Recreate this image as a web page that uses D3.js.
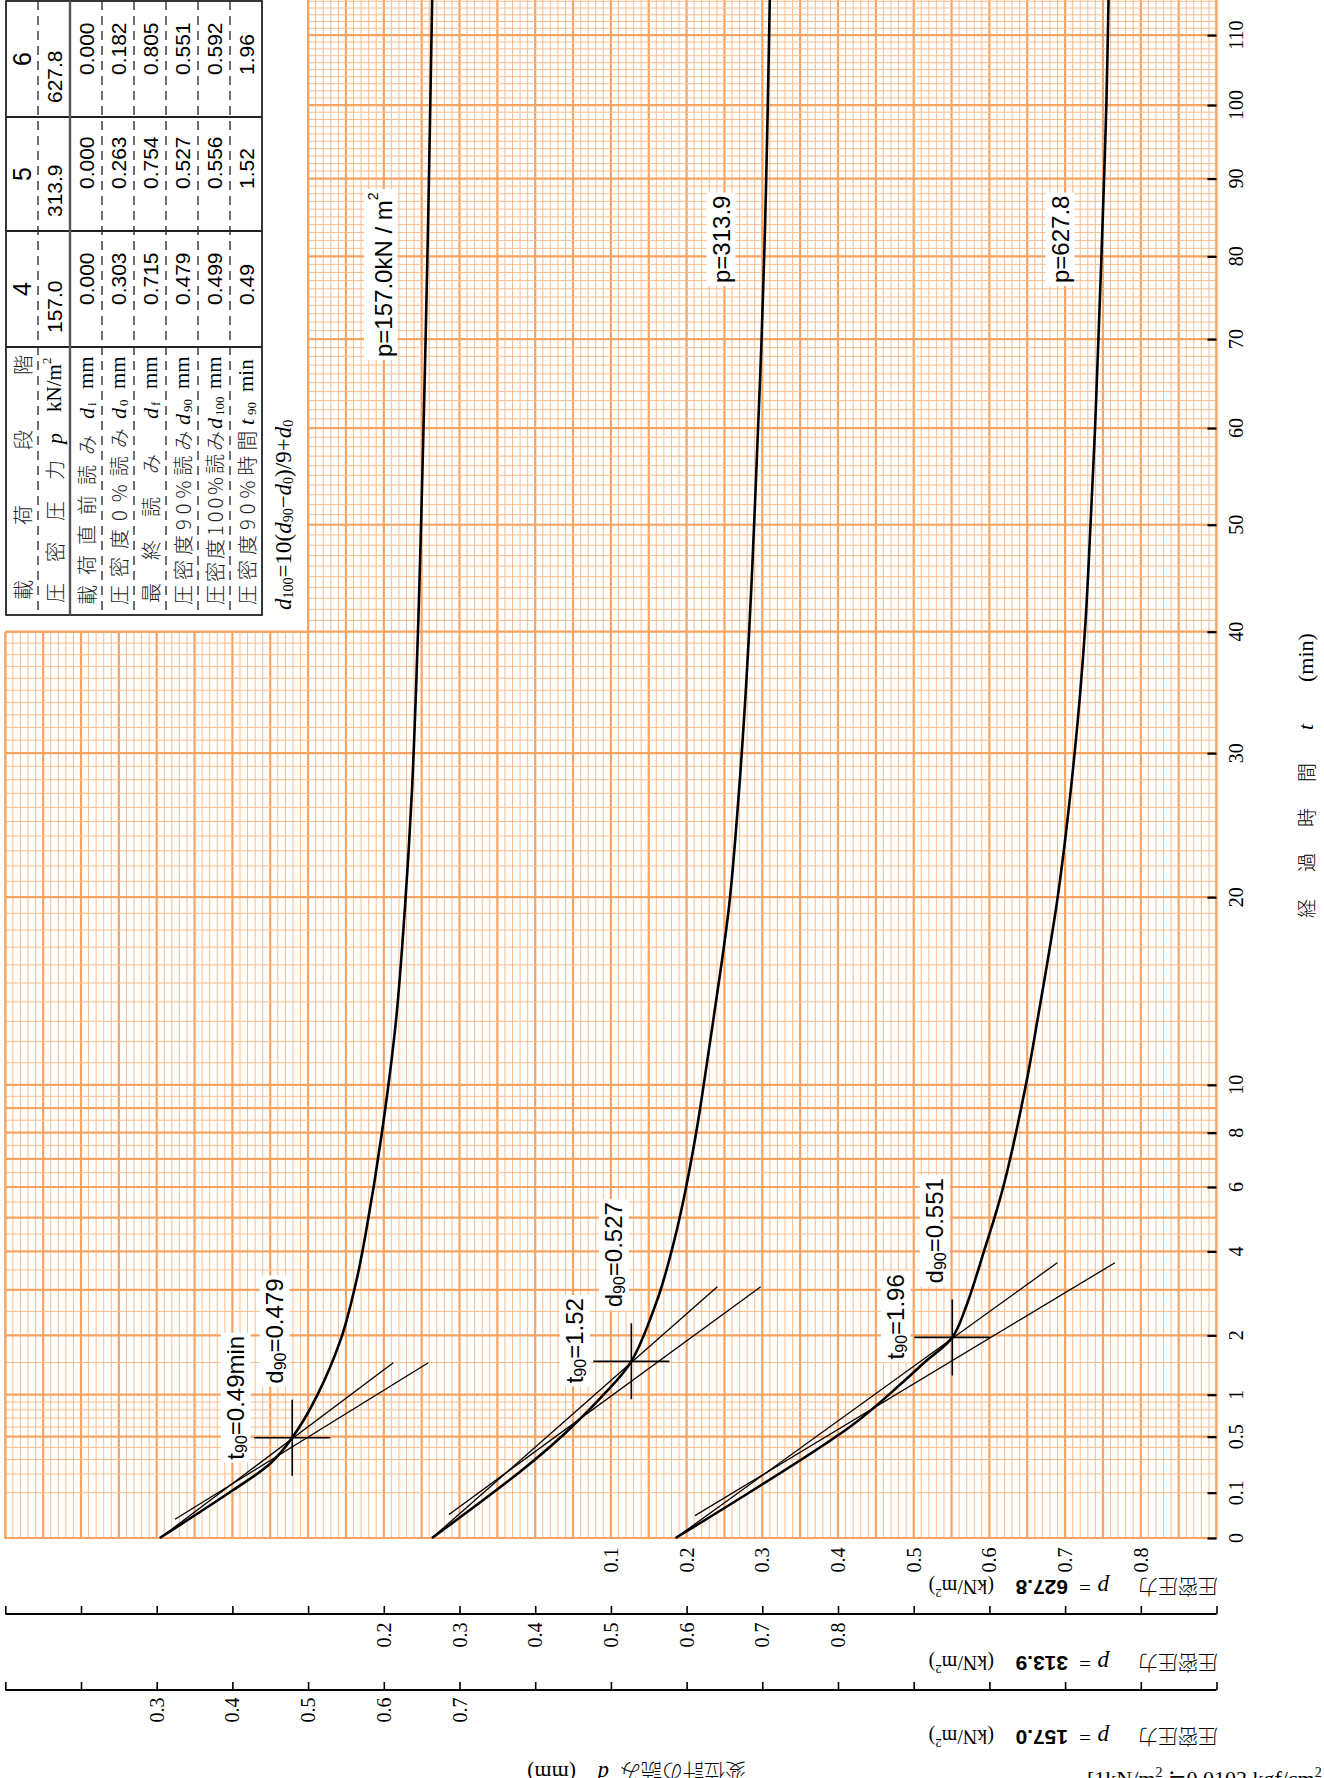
<!DOCTYPE html>
<html>
<head>
<meta charset="utf-8">
<script src="https://cdn.jsdelivr.net/npm/d3@7"></script>
<style>
  body { margin: 0; background: #fff; }
  svg { display: block; }
  .serif { font-family: "Liberation Serif", "DejaVu Serif", serif; }
  .sans { font-family: "Liberation Sans", Arial, sans-serif; }
  .cjk { font-family: "Noto Sans CJK JP", sans-serif; }
</style>
</head>
<body>
<svg width="1324" height="1778"></svg>
<script>
// **** data ****
var timeTicks = [0, 0.1, 0.5, 1, 2, 4, 6, 8, 10, 20, 30, 40, 50, 60, 70, 80, 90, 100, 110];
var dLabelsTop = [0.1, 0.2, 0.3, 0.4, 0.5, 0.6, 0.7, 0.8];   // p = 627.8
var dLabelsMid = [0.2, 0.3, 0.4, 0.5, 0.6, 0.7, 0.8];        // p = 313.9
var dLabelsBot = [0.3, 0.4, 0.5, 0.6, 0.7];                  // p = 157.0

var stageNo = ['4', '5', '6'];
var pressures = ['157.0', '313.9', '627.8'];
var readDi = ['0.000', '0.000', '0.000'];
var readD0 = ['0.303', '0.263', '0.182'];
var readDf = ['0.715', '0.754', '0.805'];
var readD90 = ['0.479', '0.527', '0.551'];
var readD100 = ['0.499', '0.556', '0.592'];
var readT90 = ['0.49', '1.52', '1.96'];

// [t (min), d (mm)]
var curve157 = [[0, 0.304], [0.112, 0.401], [0.27, 0.450], [0.49, 0.479], [0.97, 0.511], [1.94, 0.5436],
  [3.24, 0.564], [4.5, 0.576], [7.9, 0.597], [13, 0.616], [19.4, 0.628], [27, 0.637], [35.8, 0.643],
  [45.9, 0.6477], [57.2, 0.6516], [69.9, 0.6552], [83.7, 0.6584], [98.7, 0.6612], [116, 0.664]];
var curve314 = [[0, 0.2637], [0.214, 0.380], [0.517, 0.437], [0.996, 0.490], [1.52, 0.527], [2.8, 0.562],
  [4, 0.580], [5.46, 0.595], [7.96, 0.6124], [10, 0.6226], [13.07, 0.6353], [19.4, 0.656], [27, 0.669],
  [35.8, 0.679], [44.7, 0.686], [57.2, 0.693], [69.9, 0.699], [83.7, 0.7036], [98.7, 0.707], [116, 0.710]];
var curve628 = [[0, 0.1855], [0.603, 0.416], [1.166, 0.484], [1.5, 0.514], [1.96, 0.551], [2.6, 0.569],
  [4, 0.5928], [6, 0.6183], [10, 0.6482], [13, 0.6632], [20, 0.6902], [30, 0.7126], [40, 0.7261],
  [50, 0.7336], [60, 0.7396], [70, 0.744], [80, 0.748], [90, 0.7515], [100, 0.7545], [116, 0.7575]];

// construction lines [[t, d], [t, d]]
var lines157 = [[[0, 0.3044], [1.4965, 0.6125]], [[0.017, 0.3242], [1.4965, 0.6588]]];
var lines314 = [[[0, 0.2637], [3.075, 0.6406]], [[0.027, 0.2861], [3.075, 0.6979]]];
var lines628 = [[[0, 0.1855], [3.691, 0.6897]], [[0.0244, 0.2111], [3.691, 0.7659]]];

var svg = d3.select('svg');

// **** scales ****
var tScale = d3.scaleSqrt().domain([0, 110]).range([1538, 35.1]);
var dTop = d3.scaleLinear().domain([0, 0.9]).range([535.2, 1216.5]);
var dMid = dTop.copy().domain([0.4, 1.3]);
var dBot = dTop.copy().domain([0.8, 1.7]);

var gridL = dTop(-0.7), gridR = dTop(0.9), gridB = tScale(0);
var notchX = dTop(-0.3), notchY = tScale(40);

// **** grid paper ****
svg.append('defs').append('clipPath').attr('id', 'gclip')
  .append('path')
  .attr('d', 'M' + gridL + ',' + notchY + 'H' + notchX + 'V0H' + gridR + 'V' + gridB + 'H' + gridL + 'Z');

var grid = svg.append('g').attr('clip-path', 'url(#gclip)');

var dGrid = d3.range(-70, 91);
grid.selectAll('.vg').data(dGrid).enter().append('line')
  .attr('x1', function (k) { return dTop(k / 100); })
  .attr('x2', function (k) { return dTop(k / 100); })
  .attr('y1', 0).attr('y2', gridB)
  .attr('stroke', function (k) { return k % 5 === 0 ? '#f7a362' : '#fabd8e'; })
  .attr('stroke-width', function (k) { return k % 5 === 0 ? 2.2 : 1; });

var tGrid = d3.range(0, 10).map(function (i) { return i / 10; })
  .concat(d3.range(2, 20).map(function (i) { return i / 2; }))
  .concat(d3.range(10, 117));
function tMajor(t) {
  if (t <= 1) return t === 0 || t === 0.5 || t === 1;
  if (t <= 10) return t === Math.round(t);
  return t % 10 === 0;
}
grid.selectAll('.hg').data(tGrid).enter().append('line')
  .attr('x1', gridL).attr('x2', gridR)
  .attr('y1', function (t) { return tScale(t); })
  .attr('y2', function (t) { return tScale(t); })
  .attr('stroke', function (t) { return tMajor(t) ? '#f7a362' : '#fabd8e'; })
  .attr('stroke-width', function (t) { return tMajor(t) ? 2.2 : 1; });

svg.append('path')
  .attr('d', 'M' + gridL + ',' + notchY + 'H' + notchX + 'V0M' + gridR + ',0V' + gridB + 'H' + gridL + 'V' + notchY)
  .attr('fill', 'none').attr('stroke', '#f7a362').attr('stroke-width', 2.2);

// **** time axis ****
var tAxis = svg.append('g').attr('transform', 'translate(' + gridR + ',0)')
  .call(d3.axisLeft(tScale).tickValues(timeTicks).tickSize(9).tickFormat(''));
tAxis.select('.domain').remove();
tAxis.selectAll('line').attr('stroke', '#000').attr('stroke-width', 2.2);

svg.selectAll('.tlab').data(timeTicks).enter().append('text')
  .attr('class', 'serif')
  .attr('transform', function (t) { return 'translate(1236,' + tScale(t) + ') rotate(-90)'; })
  .attr('text-anchor', 'middle').attr('dominant-baseline', 'central')
  .style('font-size', '20px')
  .text(function (t) { return t; });

var tTitle = svg.append('g').attr('transform', 'translate(1305,920) rotate(-90)');
[['経', 2, 'cjk'], ['過', 48, 'cjk'], ['時', 93, 'cjk'], ['間', 138, 'cjk'], ['t', 190, 'serif it'], ['(min)', 238, 'serif']]
  .forEach(function (p) {
    tTitle.append('text').attr('class', p[2].replace(' it', '')).attr('x', p[1])
      .attr('dominant-baseline', 'central')
      .style('font-size', p[2] === 'cjk' ? '19px' : '22px')
      .style('font-weight', p[2] === 'cjk' ? 300 : 'normal')
      .style('font-style', p[2].indexOf('it') >= 0 ? 'italic' : 'normal')
      .text(p[0]);
  });

// **** displacement axes ****
var yMid = 1614, yBot = 1690;
[[yMid, dMid, d3.range(-3, 14)], [yBot, dBot, d3.range(1, 18)]].forEach(function (a) {
  var g = svg.append('g').attr('transform', 'translate(0,' + a[0] + ')')
    .call(d3.axisTop(a[1]).tickValues(a[2].map(function (k) { return k / 10; })).tickSize(8).tickFormat(''));
  g.select('.domain').remove();
  g.selectAll('line').attr('stroke', '#000').attr('stroke-width', 1.6);
  g.append('line').attr('x1', gridL).attr('x2', gridR).attr('stroke', '#000').attr('stroke-width', 1.8);
});

function dLabels(vals, scale, y) {
  svg.selectAll(null).data(vals).enter().append('text')
    .attr('class', 'serif')
    .attr('transform', function (d) { return 'translate(' + scale(d) + ',' + y + ') rotate(-90)'; })
    .attr('text-anchor', 'middle').attr('dominant-baseline', 'central')
    .style('font-size', '20px')
    .text(function (d) { return d.toFixed(1); });
}
dLabels(dLabelsTop, dTop, 1560);
dLabels(dLabelsMid, dMid, 1635);
dLabels(dLabelsBot, dBot, 1710);

// upside-down axis captions
function flipCaption(y, value) {
  var g = svg.append('g').attr('transform', 'translate(1218,' + y + ') rotate(180)');
  g.append('text').attr('class', 'cjk').attr('x', 0).attr('dominant-baseline', 'central')
    .style('font-size', '20px').style('font-weight', 300).text('圧密圧力');
  g.append('text').attr('class', 'serif').attr('x', 109).attr('dominant-baseline', 'central')
    .style('font-size', '23px').style('font-style', 'italic').text('p');
  g.append('text').attr('class', 'serif').attr('x', 127).attr('dominant-baseline', 'central')
    .style('font-size', '21px').text('=');
  g.append('text').attr('class', 'sans').attr('x', 150).attr('dominant-baseline', 'central')
    .style('font-size', '21px').style('font-weight', 'bold').text(value);
  var u = g.append('text').attr('class', 'serif').attr('x', 224).attr('dominant-baseline', 'central')
    .style('font-size', '20px');
  u.append('tspan').text('(kN/m');
  u.append('tspan').attr('dy', -7).style('font-size', '13px').text('2');
  u.append('tspan').attr('dy', 7).text(')');
}
flipCaption(1587, pressures[2]);
flipCaption(1663, pressures[1]);
flipCaption(1737, pressures[0]);

var dCap = svg.append('g').attr('transform', 'translate(746,1773) rotate(180)');
dCap.append('text').attr('class', 'cjk').attr('dominant-baseline', 'central').style('font-size', '21px')
  .style('font-weight', 300).text('変位計の読み');
dCap.append('text').attr('class', 'serif').attr('x', 137).attr('dominant-baseline', 'central')
  .style('font-size', '23px').style('font-style', 'italic').text('d');
dCap.append('text').attr('class', 'serif').attr('x', 170).attr('dominant-baseline', 'central')
  .style('font-size', '22px').text('(mm)');

var note = svg.append('text').attr('class', 'serif').attr('x', 1087).attr('y', 1786).style('font-size', '22px');
note.append('tspan').text('[1kN/m');
note.append('tspan').attr('dy', -9).style('font-size', '14px').text('2');
note.append('tspan').attr('dy', 9).text(' ≒0.0102 kgf/cm');
note.append('tspan').attr('dy', -9).style('font-size', '14px').text('2');

// **** curves and constructions ****
var sets = [
  { curve: curve157, lines: lines157, xs: dBot, d90: +readD90[0], t90: +readT90[0], tl: 'min' },
  { curve: curve314, lines: lines314, xs: dMid, d90: +readD90[1], t90: +readT90[1], tl: '' },
  { curve: curve628, lines: lines628, xs: dTop, d90: +readD90[2], t90: +readT90[2], tl: '' }
];

function whiteLabel(x, y, build) {
  var g = svg.append('g').attr('transform', 'translate(' + x + ',' + y + ') rotate(-90)');
  var r = g.append('rect').attr('fill', '#fff');
  var t = g.append('text').attr('class', 'sans').attr('dominant-baseline', 'central').style('font-size', '24px');
  build(t);
  var b = t.node().getBBox();
  r.attr('x', b.x - 3).attr('y', b.y - 1).attr('width', b.width + 6).attr('height', b.height + 2);
}

sets.forEach(function (s) {
  var xs = s.xs;
  var gen = d3.line()
    .x(function (p) { return xs(p[1]); })
    .y(function (p) { return tScale(p[0]); })
    .curve(d3.curveCatmullRom.alpha(0.5));
  svg.append('path').datum(s.curve).attr('d', gen)
    .attr('fill', 'none').attr('stroke', '#000').attr('stroke-width', 2.6);

  svg.selectAll(null).data(s.lines).enter().append('line')
    .attr('x1', function (l) { return xs(l[0][1]); })
    .attr('y1', function (l) { return tScale(l[0][0]); })
    .attr('x2', function (l) { return xs(l[1][1]); })
    .attr('y2', function (l) { return tScale(l[1][0]); })
    .attr('stroke', '#000').attr('stroke-width', 1.3);

  var cx = xs(s.d90), cy = tScale(s.t90);
  svg.append('path').attr('d', 'M' + (cx - 38) + ',' + cy + 'h76M' + cx + ',' + (cy - 38) + 'v76')
    .attr('stroke', '#000').attr('stroke-width', 1.6);

  whiteLabel(cx - 57, cy + 22, function (t) {
    t.append('tspan').text('t');
    t.append('tspan').attr('dy', 6).style('font-size', '16px').text('90');
    t.append('tspan').attr('dy', -6).text('=' + s.t90.toFixed(2) + s.tl);
  });
  whiteLabel(cx - 18, cy - 54, function (t) {
    t.append('tspan').text('d');
    t.append('tspan').attr('dy', 6).style('font-size', '16px').text('90');
    t.append('tspan').attr('dy', -6).text('=' + s.d90.toFixed(3));
  });
});

// pressure labels on the curves
whiteLabel(383, 357, function (t) {
  t.text('p=157.0kN / m');
  t.append('tspan').attr('dy', -10).style('font-size', '14px').text('2');
});
whiteLabel(721, 283, function (t) { t.text('p=313.9'); });
whiteLabel(1060, 283, function (t) { t.text('p=627.8'); });

// **** table ****
var rowX = [6, 38, 70, 102, 134, 166, 198, 230, 262];
var colY = [[347, 615], [231, 347], [117, 231], [1, 117]];
var tbl = svg.append('g');
tbl.append('rect').attr('x', rowX[0]).attr('y', colY[3][0]).attr('width', rowX[8] - rowX[0])
  .attr('height', colY[0][1] - colY[3][0]).attr('fill', '#fff').attr('stroke', '#222').attr('stroke-width', 1.8);
[117, 231, 347].forEach(function (y) {
  tbl.append('line').attr('x1', rowX[0]).attr('x2', rowX[8]).attr('y1', y).attr('y2', y)
    .attr('stroke', '#222').attr('stroke-width', 1.8);
});
rowX.slice(1, 8).forEach(function (x, i) {
  tbl.append('line').attr('x1', x).attr('x2', x).attr('y1', colY[3][0]).attr('y2', colY[0][1])
    .attr('stroke', i === 1 ? '#555' : '#222').attr('stroke-width', i === 1 ? 2.4 : 1.3)
    .attr('stroke-dasharray', i === 1 ? null : '9,6');
});

var rowVals = [stageNo, pressures, readDi, readD0, readDf, readD90, readD100, readT90];
rowVals.forEach(function (vals, r) {
  var xc = (rowX[r] + rowX[r + 1]) / 2;
  vals.forEach(function (v, c) {
    var cy = colY[c + 1];
    var t = tbl.append('text').attr('class', 'sans').attr('dominant-baseline', 'central').text(v);
    if (r === 0) {
      t.attr('transform', 'translate(' + xc + ',' + (cy[0] + cy[1]) / 2 + ') rotate(-90)')
        .attr('text-anchor', 'middle').style('font-size', '25px');
    } else {
      t.attr('transform', 'translate(' + xc + ',' + (cy[1] - (r === 1 ? 14 : 42)) + ') rotate(-90)')
        .style('font-size', '21px');
    }
  });
});

// row headings: [text, local x, kind, letter-spacing]
var rowHeads = [
  [['載荷段階', 7, 'cjk', 55]],
  [['圧密圧力', 4, 'cjk', 21], ['p', 163, 'it'], ['kN/m', 195, 'serif'], ['2', 243, 'sup']],
  [['載荷直前読み', 2, 'cjk', 10], ['d', 188, 'it'], ['i', 201, 'sub'], ['mm', 218, 'serif']],
  [['圧密度0%読み', 2, 'cjk', 8], ['d', 188, 'it'], ['0', 201, 'sub'], ['mm', 218, 'serif']],
  [['最終読み', 4, 'cjk', 23], ['d', 188, 'it'], ['f', 201, 'sub'], ['mm', 218, 'serif']],
  [['圧密度90%読み', 2, 'cjk', 5], ['d', 182, 'it'], ['90', 195, 'sub'], ['mm', 218, 'serif']],
  [['圧密度100%読み', 2, 'cjk', 3], ['d', 178, 'it'], ['100', 191, 'sub'], ['mm', 218, 'serif']],
  [['圧密度90%時間', 2, 'cjk', 5], ['t', 182, 'it'], ['90', 192, 'sub'], ['min', 215, 'serif']]
];
rowHeads.forEach(function (pieces, r) {
  var xc = (rowX[r] + rowX[r + 1]) / 2;
  var g = tbl.append('g').attr('transform', 'translate(' + xc + ',607) rotate(-90)');
  pieces.forEach(function (p) {
    var t = g.append('text').attr('x', p[1]).attr('dominant-baseline', 'central').text(p[0]);
    if (p[2] === 'cjk') {
      t.attr('class', 'cjk').style('font-size', '20px').style('font-weight', 300)
        .style('letter-spacing', p[3] + 'px').attr('fill', '#222');
    } else if (p[2] === 'it') {
      t.attr('class', 'serif').style('font-size', '22px').style('font-style', 'italic');
    } else if (p[2] === 'sub') {
      t.attr('class', 'serif').style('font-size', '13px').attr('y', 5);
    } else if (p[2] === 'sup') {
      t.attr('class', 'serif').style('font-size', '13px').attr('y', -8);
    } else {
      t.attr('class', 'serif').style('font-size', '21px');
    }
  });
});

// formula under the table
var fm = svg.append('text').attr('class', 'serif')
  .attr('transform', 'translate(283,610) rotate(-90)').attr('dominant-baseline', 'central')
  .style('font-size', '23px');
fm.append('tspan').style('font-style', 'italic').text('d');
fm.append('tspan').attr('dy', 5).style('font-size', '14px').text('100');
fm.append('tspan').attr('dy', -5).text('=10(');
fm.append('tspan').style('font-style', 'italic').text('d');
fm.append('tspan').attr('dy', 5).style('font-size', '14px').text('90');
fm.append('tspan').attr('dy', -5).text('−');
fm.append('tspan').style('font-style', 'italic').text('d');
fm.append('tspan').attr('dy', 5).style('font-size', '14px').text('0');
fm.append('tspan').attr('dy', -5).text(')/9+');
fm.append('tspan').style('font-style', 'italic').text('d');
fm.append('tspan').attr('dy', 5).style('font-size', '14px').text('0');
</script>
</body>
</html>
